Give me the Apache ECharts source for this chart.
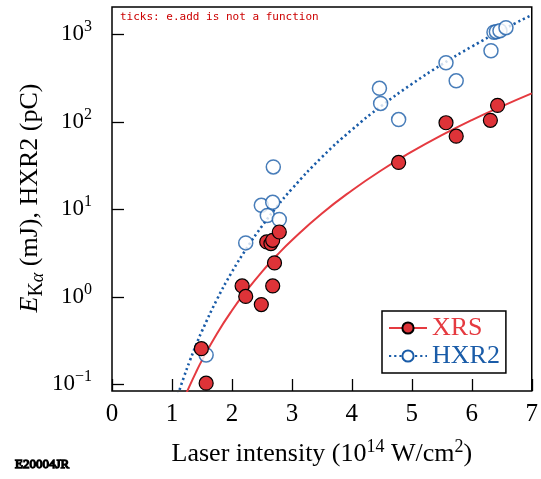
<!DOCTYPE html>
<html>
<head>
<meta charset="utf-8">
<script src="https://cdn.jsdelivr.net/npm/echarts@6/dist/echarts.min.js"></script>
<style>
  html, body { margin: 0; padding: 0; background: #fff; }
  #chart { width: 541px; height: 479px; }
  #err { position: absolute; left: 120px; top: 10px; font: 11px monospace; color: #c00; white-space: pre-wrap; width: 400px; }
</style>
</head>
<body>
<div id="chart"></div>
<div id="err"></div>
<script>
window.onerror = function (msg, src, line, col) {
  document.getElementById('err').textContent += msg + ' @' + line + ':' + col + '\n';
};

// Measured shots: laser intensity (1e14 W/cm^2) vs. K-alpha energy (mJ) and HXR2 charge (pC)
const xrsIntensity = [1.49, 1.57, 2.17, 2.23, 2.49, 2.58, 2.65, 2.68, 2.68, 2.71, 2.79, 4.78, 5.57, 5.74, 6.31, 6.43];
const xrsEnergy    = [0.255, 0.103, 1.33, 1.01, 0.815, 4.24, 4.06, 4.42, 1.33, 2.44, 5.5, 34.3, 97.5, 68.5, 104, 154];

const hxrIntensity = [1.57, 2.23, 2.49, 2.59, 2.68, 2.69, 2.79, 4.46, 4.48, 4.78, 5.57, 5.74, 6.32, 6.37, 6.41, 6.47, 6.57];
const hxrCharge    = [0.216, 4.13, 11.1, 8.5, 12.0, 30.5, 7.64, 241, 162, 106, 473, 294, 649, 1054, 1071, 1100, 1190];

// Fitted trend curves
const xrsFitIntensity = [1.2, 1.3, 1.4, 1.5, 1.75, 2, 2.25, 2.5, 2.75, 3, 3.5, 4, 4.5, 5, 5.5, 6, 6.5, 7];
const xrsFitValue     = [0.068, 0.0977, 0.137, 0.1875, 0.379, 0.697, 1.19, 1.93, 2.98, 4.43, 8.95, 16.4, 28.1, 45.5, 70.3, 104.5, 150, 211];
const hxrFitIntensity = [1.1, 1.2, 1.3, 1.4, 1.5, 1.75, 2, 2.25, 2.5, 2.75, 3, 3.5, 4, 4.5, 5, 5.5, 6, 6.5, 7];
const hxrFitValue     = [0.076, 0.1216, 0.187, 0.279, 0.405, 0.931, 1.92, 3.62, 6.40, 10.7, 17.1, 39.4, 81, 153, 270, 452, 723, 1113, 1660];

// Axis ticks
const xTicks = [0, 1, 2, 3, 4, 5, 6, 7];
const yMajorTicks = [0.1, 1, 10, 100, 1000];
const yMinorTicks = [0.09, 0.2, 0.3, 0.4, 0.5, 0.6, 0.7, 0.8, 0.9,
                     2, 3, 4, 5, 6, 7, 8, 9,
                     20, 30, 40, 50, 60, 70, 80, 90,
                     200, 300, 400, 500, 600, 700, 800, 900, 2000];

const serif = 'Liberation Serif';
const red = '#e53a40';
const redFill = '#de3338';
const blue = '#1a5ca8';
const xMin = 0, xMax = 7;
const yMin = 0.0838, yMax = 2050;
const majorLen = 12, minorLen = 6;

const zip = (xs, ys) => xs.map((x, i) => [x, ys[i]]);

function powerLabel(v) {
  const e = Math.round(Math.log10(v));
  const exp = e < 0 ? '\u2212' + (-e) : String(e);
  return '{b|10}{s|' + exp + '}';
}

const chart = echarts.init(document.getElementById('chart'));

chart.setOption({
  animation: false,
  backgroundColor: '#fff',
  grid: {
    left: 112, right: 8, top: 7, bottom: 88,
    show: true, borderColor: '#000', borderWidth: 1.5, backgroundColor: 'transparent'
  },
  xAxis: {
    type: 'value', min: xMin, max: xMax, interval: 1,
    axisLine: { show: false, onZero: false }, splitLine: { show: false },
    axisTick: { show: true, inside: true, length: majorLen, lineStyle: { color: '#000', width: 1.3 } },
    axisLabel: { show: true, margin: 11, fontFamily: serif, fontSize: 25, color: '#000' },
    name: 'Laser intensity (10{s|14} W/cm{s|2})',
    nameLocation: 'middle', nameGap: 47,
    nameTextStyle: {
      fontFamily: serif, fontSize: 26, color: '#000', lineHeight: 32,
      rich: { s: { fontFamily: serif, fontSize: 18, lineHeight: 18, verticalAlign: 'top', color: '#000' } }
    }
  },
  yAxis: {
    type: 'log', logBase: 10, min: yMin, max: yMax,
    axisLine: { show: false, onZero: false }, splitLine: { show: false },
    axisTick: { show: true, inside: true, length: majorLen, customValues: yMajorTicks,
                lineStyle: { color: '#000', width: 1.3 } },
    minorTick: { show: false },
    axisLabel: {
      show: true, customValues: yMajorTicks, margin: 20,
      formatter: powerLabel,
      rich: {
        b: { fontFamily: serif, fontSize: 23, lineHeight: 30, color: '#000' },
        s: { fontFamily: serif, fontSize: 16, lineHeight: 16, verticalAlign: 'top', color: '#000' }
      }
    }
  },
  legend: {
    orient: 'vertical',
    left: 382, top: 311,
    padding: [4, 6, 4, 6],
    itemWidth: 38, itemHeight: 14, itemGap: 2,
    borderColor: '#000', borderWidth: 1.5,
    backgroundColor: '#fff',
    textStyle: { fontFamily: serif, fontSize: 26, lineHeight: 26 },
    data: [
      { name: 'XRS', textStyle: { color: red } },
      { name: 'HXR2', textStyle: { color: blue } }
    ]
  },
  series: [
    {
      name: 'XRS', type: 'line',
      data: zip(xrsFitIntensity, xrsFitValue),
      smooth: true, showSymbol: false, symbol: 'circle', symbolSize: 14,
      lineStyle: { color: red, width: 2 },
      itemStyle: { color: redFill, borderColor: '#000', borderWidth: 1.2 },
      clip: true, silent: true, z: 2
    },
    {
      name: 'HXR2', type: 'line',
      data: zip(hxrFitIntensity, hxrFitValue),
      smooth: true, showSymbol: false, symbol: 'circle', symbolSize: 13,
      lineStyle: { color: blue, width: 2.6, type: [2.2, 3] },
      itemStyle: { color: '#fff', borderColor: blue, borderWidth: 1.5 },
      clip: true, silent: true, z: 2
    },
    {
      name: 'HXR2', type: 'scatter',
      data: zip(hxrIntensity, hxrCharge),
      symbol: 'circle', symbolSize: 14,
      itemStyle: { color: '#fff', borderColor: blue, borderWidth: 1.5 },
      z: 3
    },
    {
      name: 'XRS', type: 'scatter',
      data: zip(xrsIntensity, xrsEnergy),
      symbol: 'circle', symbolSize: 14,
      itemStyle: { color: redFill, borderColor: '#000', borderWidth: 1.2, opacity: 1 },
      z: 4
    }
  ],
  graphic: [
    {
      type: 'text', x: 30, y: 198, rotation: Math.PI / 2,
      style: {
        text: '{e|E}{k|K}{a|\u03b1}{n| (mJ), HXR2 (pC)}',
        align: 'center', verticalAlign: 'middle',
        fill: '#000',
        rich: {
          e: { fontFamily: serif, fontSize: 26, fontStyle: 'italic', lineHeight: 34, fill: '#000' },
          k: { fontFamily: serif, fontSize: 20, lineHeight: 22, verticalAlign: 'bottom', fill: '#000' },
          a: { fontFamily: serif, fontSize: 18, fontStyle: 'italic', lineHeight: 16, verticalAlign: 'bottom', fill: '#000' },
          n: { fontFamily: serif, fontSize: 26, lineHeight: 34, fill: '#000' }
        }
      }
    },
    {
      type: 'text', left: 15, top: 458,
      style: { text: 'E20004JR', fontFamily: serif, fontSize: 13, fill: '#000' }
    }
  ]
});

// Remaining inward tick marks (right side, top, and log minor ticks), placed through the axis scales
try {
  const toPx = (x, y) => chart.convertToPixel({ xAxisIndex: 0, yAxisIndex: 0 }, [x, y]);
  const tickLine = (x1, y1, x2, y2) => ({
    type: 'line', z: 10, silent: true,
    shape: { x1: x1, y1: y1, x2: x2, y2: y2 },
    style: { stroke: '#000', lineWidth: 1.3 }
  });
  const ticks = [];
  const addY = (v, len, leftSide) => {
    const pl = toPx(xMin, v), pr = toPx(xMax, v);
    if (leftSide) ticks.push(tickLine(pl[0], pl[1], pl[0] + len, pl[1]));
    ticks.push(tickLine(pr[0] - len, pr[1], pr[0], pr[1]));
  };
  yMajorTicks.forEach(v => addY(v, majorLen, false));
  yMinorTicks.forEach(v => addY(v, minorLen, true));
  xTicks.forEach(v => {
    const pt = toPx(v, yMax);
    ticks.push(tickLine(pt[0], pt[1], pt[0], pt[1] + majorLen));
  });
  chart.setOption({ graphic: [{ type: 'group', children: ticks }] }, { replaceMerge: [] });
} catch (e) {
  document.getElementById('err').textContent += 'ticks: ' + e.message + '\n';
}
</script>
</body>
</html>
